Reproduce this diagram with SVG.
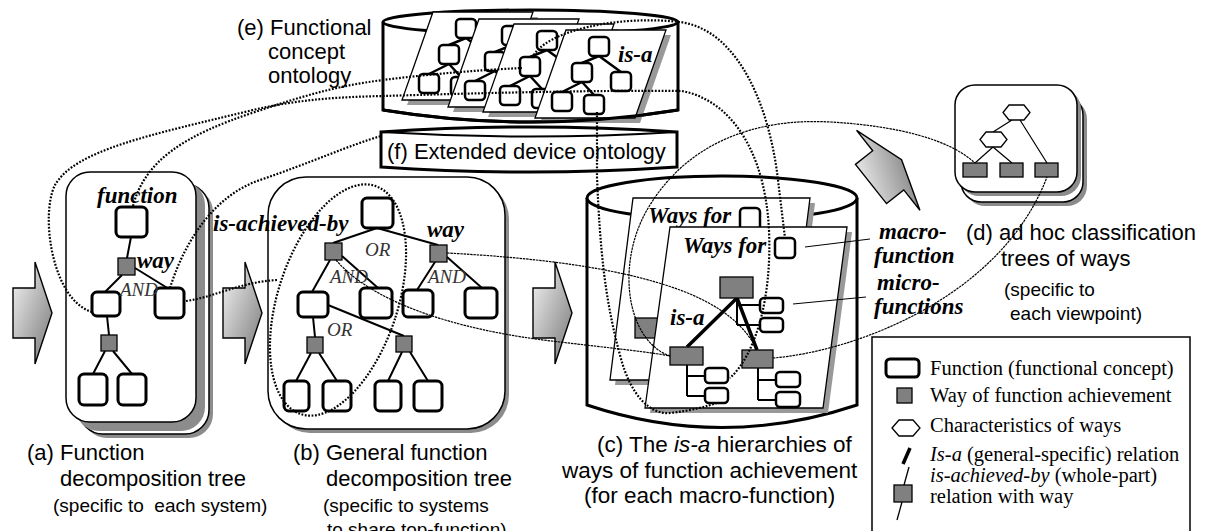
<svg xmlns="http://www.w3.org/2000/svg" width="1215" height="531" viewBox="0 0 1215 531">
<defs>
  <linearGradient id="ag" x1="0" y1="0" x2="1" y2="1">
    <stop offset="0" stop-color="#f6f6f6"/>
    <stop offset="1" stop-color="#767676"/>
  </linearGradient>
  <polygon id="arrow" points="0,-25 22,-25 22,-51 39,0 22,51 22,25 0,25"/>
  <g id="esheet">
    <polygon points="5,5 105,5 74,93 -26,93" fill="#999"/>
    <polygon points="0,0 100,0 69,88 -31,88" fill="#fff" stroke="#000" stroke-width="1.3"/>
    <path d="M33,26 L16,33 M33,26 L55,42 M16,52 L-4,62 M16,52 L28,65" stroke="#000" stroke-width="2.5" fill="none"/>
    <rect x="23" y="7" width="20" height="19" rx="4" fill="#fff" stroke="#000" stroke-width="2.5"/>
    <rect x="6" y="33" width="20" height="19" rx="4" fill="#fff" stroke="#000" stroke-width="2.5"/>
    <rect x="45" y="42" width="20" height="19" rx="4" fill="#fff" stroke="#000" stroke-width="2.5"/>
    <rect x="-14" y="62" width="20" height="19" rx="4" fill="#fff" stroke="#000" stroke-width="2.5"/>
    <rect x="18" y="65" width="20" height="19" rx="4" fill="#fff" stroke="#000" stroke-width="2.5"/>
  </g>
</defs>
<style>
  .sans{font-family:"Liberation Sans",Arial,sans-serif;font-size:22px;fill:#000}
  .sm{font-size:19px}
  .bi{font-family:"Liberation Serif","Times New Roman",serif;font-weight:bold;font-style:italic;font-size:23px;fill:#000}
  .it{font-family:"Liberation Serif","Times New Roman",serif;font-style:italic;font-size:19px;fill:#333}
  .leg{font-family:"Liberation Serif","Times New Roman",serif;font-size:20.5px;fill:#000}
  .fn{fill:#fff;stroke:#000;stroke-width:3}
  .sfn{fill:#fff;stroke:#000;stroke-width:2.5}
  .way{fill:#808080;stroke:#000;stroke-width:1.3}
  .edge{stroke:#000;stroke-width:2;fill:none}
  .card{fill:#fff;stroke:#000;stroke-width:1.5}
  .shadow{fill:#8c8c8c}
  .cyl{fill:#fff;stroke:#000;stroke-width:3}
  .sheet{fill:#fff;stroke:#000;stroke-width:1.3}
  .dot{fill:none;stroke:#000;stroke-width:2.2;stroke-dasharray:1.8 1.6}
  .thin{fill:none;stroke:#000;stroke-width:1.2;stroke-dasharray:2.5 0.8}
  .lead{fill:none;stroke:#000;stroke-width:1}
  .arw{fill:url(#ag);stroke:#000;stroke-width:1.4}
  .isa{stroke:#000;stroke-width:3.5;fill:none}
</style>

<g id="arrows">
  <use href="#arrow" class="arw" transform="translate(13,313)"/>
  <use href="#arrow" class="arw" transform="translate(223,313)"/>
  <use href="#arrow" class="arw" transform="translate(533,313)"/>
  <use href="#arrow" class="arw" transform="translate(871,184) rotate(-38.4)"/>
</g>

<g id="e-functional-concept-ontology">
  <path d="M383,22 L383,110 Q530.5,134 678,110 L678,22" class="cyl"/>
  <ellipse cx="530.5" cy="22" rx="147.5" ry="12" class="cyl"/>
  <use href="#esheet" transform="translate(433,12)"/>
  <use href="#esheet" transform="translate(479,19)"/>
  <use href="#esheet" transform="translate(514,24)"/>
  <use href="#esheet" transform="translate(566,30)"/>
  <text class="bi" x="618" y="62">is-a</text>
  <path d="M383,110 Q530.5,134 678,110" fill="none" stroke="#000" stroke-width="3"/>
  <text class="sans" x="237" y="35">(e) Functional</text>
  <text class="sans" x="268" y="59">concept</text>
  <text class="sans" x="268" y="83">ontology</text>
</g>

<g id="f-extended-device-ontology">
  <path d="M381,132 Q529,122 677,132 L677,167 Q529,177 381,167 Z" class="cyl"/>
  <path d="M381,132 Q529,141 677,132" fill="none" stroke="#000" stroke-width="2"/>
  <text class="sans" x="387" y="159">(f) Extended device ontology</text>
</g>

<g id="a-function-decomposition-tree">
  <rect class="shadow" x="83" y="188" width="130" height="250" rx="24"/>
  <rect class="card" x="79" y="184" width="130" height="250" rx="24"/>
  <rect class="shadow" x="75" y="181" width="130" height="250" rx="24"/>
  <rect class="card" x="66" y="172" width="130" height="250" rx="24"/>
  <path class="edge" d="M131,237 L127,258 M122,275 L105,292 M135,268 L169,289 M107,316 L109,335 M105,351 L93,374 M113,351 L132,374"/>
  <rect class="fn" x="116" y="207" width="31" height="30" rx="5"/>
  <rect class="way" x="118" y="258" width="17" height="17"/>
  <rect class="fn" x="92" y="292" width="28" height="24" rx="5"/>
  <rect class="fn" x="155" y="288" width="29" height="30" rx="5"/>
  <rect class="way" x="101" y="335" width="16" height="16"/>
  <rect class="fn" x="79" y="374" width="28" height="31" rx="5"/>
  <rect class="fn" x="118" y="374" width="28" height="31" rx="5"/>
  <text class="bi" x="97" y="203">function</text>
  <text class="bi" x="137" y="268">way</text>
  <text class="it" x="120" y="296">AND</text>
  <text class="sans" x="27" y="460">(a) Function</text>
  <text class="sans" x="60" y="486">decomposition tree</text>
  <text class="sans sm" x="53" y="512" xml:space="preserve">(specific to  each system)</text>
</g>

<g id="b-general-function-decomposition-tree">
  <rect class="shadow" x="272" y="181" width="237" height="252" rx="38"/>
  <rect class="card" x="268" y="177" width="237" height="252" rx="38"/>
  <path class="edge" d="M377,228 L333,243 M377,228 L438,245 M330,260 L312,292 M342,256 L378,288 M435,262 L417,290 M447,257 L482,288 M313,317 L315,337 M328,305 L404,336 M311,353 L296,381 M319,353 L337,381 M402,352 L388,381 M410,352 L428,381"/>
  <rect class="fn" x="362" y="198" width="31" height="30" rx="5"/>
  <rect class="way" x="325" y="243" width="17" height="17"/>
  <rect class="way" x="430" y="245" width="17" height="17"/>
  <rect class="fn" x="298" y="292" width="30" height="25" rx="5"/>
  <rect class="fn" x="360" y="288" width="32" height="30" rx="5"/>
  <rect class="fn" x="403" y="290" width="30" height="27" rx="5"/>
  <rect class="fn" x="465" y="288" width="32" height="30" rx="5"/>
  <rect class="way" x="307" y="337" width="16" height="16"/>
  <rect class="way" x="396" y="336" width="16" height="16"/>
  <rect class="fn" x="284" y="381" width="25" height="30" rx="5"/>
  <rect class="fn" x="323" y="381" width="28" height="30" rx="5"/>
  <rect class="fn" x="375" y="381" width="26" height="30" rx="5"/>
  <rect class="fn" x="414" y="381" width="28" height="30" rx="5"/>
  <text class="bi" x="213" y="231">is-achieved-by</text>
  <text class="bi" x="427" y="237">way</text>
  <text class="it" x="365" y="256">OR</text>
  <text class="it" x="330" y="283">AND</text>
  <text class="it" x="428" y="283">AND</text>
  <text class="it" x="327" y="336">OR</text>
  <text class="sans" x="293" y="460">(b) General function</text>
  <text class="sans" x="326" y="486">decomposition tree</text>
  <text class="sans sm" x="323" y="512">(specific to systems</text>
  <text class="sans sm" x="327" y="536">to share top-function)</text>
</g>

<g id="c-isa-hierarchies">
  <path d="M587,198 L587,405 Q722,450 857,405 L857,198" class="cyl"/>
  <ellipse cx="722" cy="198" rx="135" ry="22" class="cyl"/>
  <polygon points="638,203 815,203 792,385 615,385" fill="#999"/>
  <polygon points="633,198 810,198 787,380 610,380" class="sheet"/>
  <text class="bi" x="648" y="223">Ways for</text>
  <rect class="sfn" x="740" y="208" width="20" height="22" rx="4"/>
  <rect class="way" x="635" y="318" width="30" height="20"/>
  <polygon points="675,232 852,232 828,413 650,413" fill="#999"/>
  <polygon points="670,227 847,227 823,408 645,408" class="sheet"/>
  <text class="bi" x="683" y="253">Ways for</text>
  <rect class="sfn" x="775" y="238" width="20" height="20" rx="4"/>
  <path class="edge" d="M737,298 L737,325 M737,305 L760,305 M737,325 L760,325 M687,365 L687,396 M687,376 L705,376 M687,396 L705,396 M758,368 L758,400 M758,380 L776,380 M758,400 L776,400"/>
  <path class="isa" d="M737,298 L687,347 M737,298 L757,350"/>
  <rect class="way" x="720" y="277" width="33" height="21"/>
  <rect class="way" x="670" y="347" width="33" height="18"/>
  <rect class="way" x="742" y="350" width="31" height="18"/>
  <rect class="sfn" x="760" y="298" width="23" height="15" rx="4"/>
  <rect class="sfn" x="760" y="318" width="23" height="14" rx="4"/>
  <rect class="sfn" x="705" y="368" width="23" height="15" rx="4"/>
  <rect class="sfn" x="705" y="388" width="23" height="15" rx="4"/>
  <rect class="sfn" x="776" y="372" width="24" height="15" rx="4"/>
  <rect class="sfn" x="776" y="392" width="24" height="15" rx="4"/>
  <text class="bi" x="670" y="325">is-a</text>
  <text class="bi" x="879" y="239">macro-</text>
  <text class="bi" x="874" y="263">function</text>
  <text class="bi" x="877" y="290">micro-</text>
  <text class="bi" x="874" y="314">functions</text>
  <text class="sans" style="font-size:22.5px" x="597" y="452">(c) The <tspan font-style="italic">is-a</tspan> hierarchies of</text>
  <text class="sans" style="font-size:22.5px" x="562" y="478">ways of function achievement</text>
  <text class="sans" style="font-size:22.5px" x="584" y="503">(for each macro-function)</text>
</g>

<g id="d-adhoc-classification">
  <rect class="shadow" x="965" y="99" width="122" height="107" rx="20"/>
  <rect class="card" x="961" y="95" width="122" height="107" rx="20"/>
  <rect class="shadow" x="959" y="89" width="122" height="107" rx="20"/>
  <rect class="card" x="955" y="85" width="122" height="107" rx="20"/>
  <path d="M1012,120 L993,132 M1020,120 L1047,163 M993,147 L975,163 M993,147 L1012,163" stroke="#000" stroke-width="1.2" fill="none"/>
  <polygon points="1003,112.5 1009,105 1024,105 1030,112.5 1024,120 1009,120" fill="#fff" stroke="#000" stroke-width="1.3"/>
  <polygon points="980,139.5 986,132 1001,132 1007,139.5 1001,147 986,147" fill="#fff" stroke="#000" stroke-width="1.3"/>
  <rect class="way" x="963" y="163" width="24" height="14"/>
  <rect class="way" x="1000" y="163" width="23" height="14"/>
  <rect class="way" x="1035" y="163" width="23" height="14"/>
  <text class="sans" x="966" y="240">(d) ad hoc classification</text>
  <text class="sans" x="1001" y="266">trees of ways</text>
  <text class="sans sm" x="1004" y="296">(specific to</text>
  <text class="sans sm" x="1010" y="320">each viewpoint)</text>
</g>

<g id="legend">
  <rect x="872" y="337" width="318" height="210" fill="#fff" stroke="#000" stroke-width="1.5"/>
  <rect class="fn" x="886" y="359" width="33" height="18" rx="4"/>
  <text class="leg" x="930" y="375">Function (functional concept)</text>
  <rect class="way" x="897" y="388" width="15" height="15"/>
  <text class="leg" x="930" y="402">Way of function achievement</text>
  <polygon points="892,428 899,420 913,420 920,428 913,436 899,436" fill="#fff" stroke="#000" stroke-width="1.3"/>
  <text class="leg" x="930" y="432">Characteristics of ways</text>
  <line x1="910" y1="448" x2="903" y2="464" stroke="#000" stroke-width="3.5"/>
  <text class="leg" x="930" y="461"><tspan font-style="italic">Is-a</tspan> (general-specific) relation</text>
  <line x1="909" y1="467" x2="904" y2="485" stroke="#000" stroke-width="1.3"/>
  <rect class="way" x="894" y="485" width="18" height="17"/>
  <line x1="902" y1="502" x2="897" y2="520" stroke="#000" stroke-width="1.3"/>
  <text class="leg" x="930" y="482"><tspan font-style="italic">is-achieved-by</tspan> (whole-part)</text>
  <text class="leg" x="930" y="503">relation with way</text>
</g>

<g id="connectors">
  <path class="dot" d="M133,206 C145,160 185,135 255,112 C300,97 335,86 383,80 C430,74 480,70 522,68"/>
  <path class="dot" d="M92,312 C52,300 40,215 55,185 C75,150 150,135 253,110 C300,99 340,97 383,96 C480,93 600,90 682,91 C730,100 765,150 769,230 C772,300 755,355 730,378"/>
  <path class="dot" d="M170,288 C185,240 215,195 260,180 C310,163 350,145 381,136"/>
  <path class="dot" d="M186,301 C215,297 240,282 277,280"/>
  <ellipse class="dot" cx="338" cy="300" rx="60" ry="120" transform="rotate(18 338 300)"/>
  <path class="dot" d="M532,58 C545,30 620,15 680,22 C740,30 770,110 778,180 L785,238"/>
  <path class="dot" d="M597,112 L597,177 C600,250 605,300 620,355 C630,395 650,415 670,413 C690,411 708,406 717,403"/>
  <path class="thin" d="M447,253 C540,258 620,268 680,290 C720,305 745,325 757,350"/>
  <path class="thin" d="M336,260 C370,300 450,330 560,342 C610,348 650,352 670,356"/>
  <path class="thin" d="M670,356 C625,340 615,260 650,205 C690,140 760,118 830,122 C900,126 950,140 975,163"/>
  <path class="thin" d="M773,358 C850,352 1000,300 1047,177"/>
  <path class="lead" d="M805,247 L870,239 M793,304 L866,297"/>
</g>
</svg>
